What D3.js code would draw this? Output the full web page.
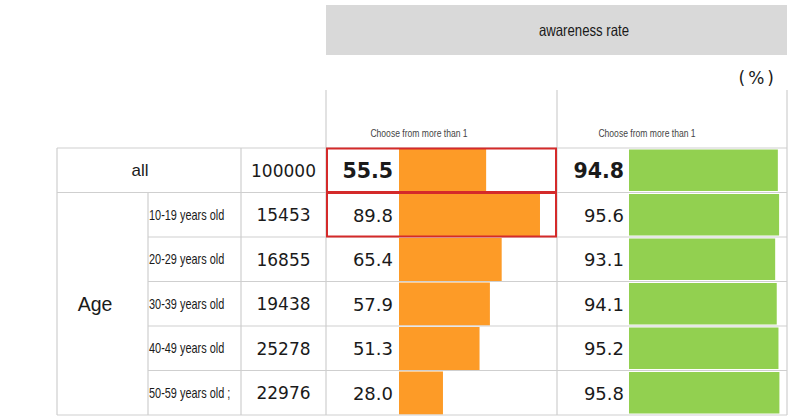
<!DOCTYPE html>
<html>
<head>
<meta charset="utf-8">
<script src="https://cdn.jsdelivr.net/npm/d3@7"></script>
<style>
  body { margin: 0; background: #fff; }
  svg { display: block; }
  text { fill: #1a1a1a; }
</style>
</head>
<body>
<div id="chart"></div>
<script>
// data
var rowLabels = ["all", "10-19 years old", "20-29 years old", "30-39 years old", "40-49 years old", "50-59 years old ;"];
var counts = [100000, 15453, 16855, 19438, 25278, 22976];
var rateOrange = [55.5, 89.8, 65.4, 57.9, 51.3, 28.0];
var rateGreen = [94.8, 95.6, 93.1, 94.1, 95.2, 95.8];
var groupLabel = "Age";
var headerTitle = "awareness rate";
var subHeader = "Choose from more than 1";
var highlighted = [0, 1]; // red boxes, first panel

var width = 800, height = 419;
var lineColor = "#cfcfcf";
var narrowFont = "'Liberation Sans', Arial";

var svg = d3.select("#chart").append("svg")
    .attr("width", width)
    .attr("height", height);

//column edges
var colLeft = 57, colAgeLabel = 148, colCount = 241, panel1 = 326, panel2 = 557, right = 787;
var tableTop = 148, tableBottom = 415;

var y = d3.scaleBand()
    .domain(d3.range(rowLabels.length))
    .range([tableTop, tableBottom]);

//bar length scale, shared by both panels
var barX = d3.scaleLinear().domain([0, 100]).range([0, 157]);

//condensed text: squeeze horizontally around an anchor x
function narrowText(sel, x, yPos, sx) {
    return sel.append("g")
        .attr("transform", "translate(" + x + "," + yPos + ") scale(" + sx + ",1)")
        .append("text")
        .style("font-family", narrowFont);
}

//header box
svg.append("rect")
    .attr("x", panel1).attr("y", 5)
    .attr("width", right - panel1).attr("height", 50)
    .attr("fill", "#d9d9d9");
narrowText(svg, 584, 36, 0.8)
    .attr("text-anchor", "middle")
    .style("font-size", "16.5px")
    .text(headerTitle);

svg.append("text")
    .attr("x", 777).attr("y", 84)
    .attr("text-anchor", "end")
    .style("font-family", "'DejaVu Sans'")
    .style("font-size", "17px")
    .style("letter-spacing", "3px")
    .text("(%)");

//sub header labels
[419, 647].forEach(function (cx) {
    narrowText(svg, cx, 137, 0.78)
        .attr("text-anchor", "middle")
        .style("font-size", "11px")
        .style("fill", "#444")
        .text(subHeader);
});

//bars
var rows = svg.selectAll(".row")
    .data(rowLabels.map(function (d, i) {
        return {label: d, count: counts[i], a: rateOrange[i], b: rateGreen[i], i: i};
    }))
    .enter().append("g")
    .attr("class", "row");

rows.append("rect")
    .attr("x", 399)
    .attr("y", function (d) { return y(d.i) + 1; })
    .attr("width", function (d) { return barX(d.a); })
    .attr("height", y.bandwidth() - 1.5)
    .attr("fill", "#fd9b27");

rows.append("rect")
    .attr("x", 629)
    .attr("y", function (d) { return y(d.i) + 1.5; })
    .attr("width", function (d) { return barX(d.b); })
    .attr("height", y.bandwidth() - 3)
    .attr("fill", "#92d050");

//grid lines
var g = svg.append("g").attr("stroke", lineColor).attr("stroke-width", 1.2).attr("fill", "none");
g.append("line").attr("x1", colLeft).attr("x2", right).attr("y1", tableTop).attr("y2", tableTop);
g.append("line").attr("x1", colLeft).attr("x2", right).attr("y1", tableBottom).attr("y2", tableBottom);
g.append("line").attr("x1", colLeft).attr("x2", right).attr("y1", y(1)).attr("y2", y(1));
d3.range(2, rowLabels.length).forEach(function (i) {
    g.append("line").attr("x1", colAgeLabel).attr("x2", right).attr("y1", y(i)).attr("y2", y(i));
});
g.append("line").attr("x1", colLeft).attr("x2", colLeft).attr("y1", tableTop).attr("y2", tableBottom);
g.append("line").attr("x1", colAgeLabel).attr("x2", colAgeLabel).attr("y1", y(1)).attr("y2", tableBottom);
g.append("line").attr("x1", colCount).attr("x2", colCount).attr("y1", tableTop).attr("y2", tableBottom);
[panel1, panel2, right].forEach(function (x) {
    g.append("line").attr("x1", x).attr("x2", x).attr("y1", 90).attr("y2", tableBottom);
});

//labels
svg.append("text")
    .attr("x", 140)
    .attr("y", y(0) + y.bandwidth() / 2 + 6)
    .attr("text-anchor", "middle")
    .style("font-family", narrowFont)
    .style("font-size", "17px")
    .text(rowLabels[0]);

rows.filter(function (d) { return d.i > 0; }).each(function (d) {
    narrowText(d3.select(this), colAgeLabel + 1, y(d.i) + y.bandwidth() / 2 + 5, 0.78)
        .style("font-size", "14px")
        .text(d.label);
});

svg.append("text")
    .attr("x", 95)
    .attr("y", (y(1) + tableBottom) / 2 + 7)
    .attr("text-anchor", "middle")
    .style("font-family", narrowFont)
    .style("font-size", "19.5px")
    .text(groupLabel);

rows.append("text")
    .attr("x", (colCount + panel1) / 2)
    .attr("y", function (d) { return y(d.i) + y.bandwidth() / 2 + 6.5; })
    .attr("text-anchor", "middle")
    .style("font-family", "'DejaVu Sans'")
    .style("font-size", "17px")
    .text(function (d) { return d.count; });

rows.append("text")
    .attr("x", 393)
    .attr("y", function (d) { return y(d.i) + y.bandwidth() / 2 + (d.i === 0 ? 8 : 7); })
    .attr("text-anchor", "end")
    .style("font-family", "'DejaVu Sans'")
    .style("font-weight", function (d) { return d.i === 0 ? "bold" : "normal"; })
    .style("font-size", function (d) { return d.i === 0 ? "20.5px" : "18px"; })
    .text(function (d) { return d.a.toFixed(1); });

rows.append("text")
    .attr("x", 624)
    .attr("y", function (d) { return y(d.i) + y.bandwidth() / 2 + (d.i === 0 ? 8 : 7); })
    .attr("text-anchor", "end")
    .style("font-family", "'DejaVu Sans'")
    .style("font-weight", function (d) { return d.i === 0 ? "bold" : "normal"; })
    .style("font-size", function (d) { return d.i === 0 ? "20.5px" : "18px"; })
    .text(function (d) { return d.b.toFixed(1); });

//red highlight boxes
svg.selectAll(".hl")
    .data(highlighted)
    .enter().append("rect")
    .attr("class", "hl")
    .attr("x", panel1 + 1)
    .attr("y", function (i) { return y(i) + 0.5; })
    .attr("width", panel2 - panel1 - 2)
    .attr("height", y.bandwidth() - 1)
    .attr("fill", "none")
    .attr("stroke", "#d42a2a")
    .attr("stroke-width", 2);
</script>
</body>
</html>
